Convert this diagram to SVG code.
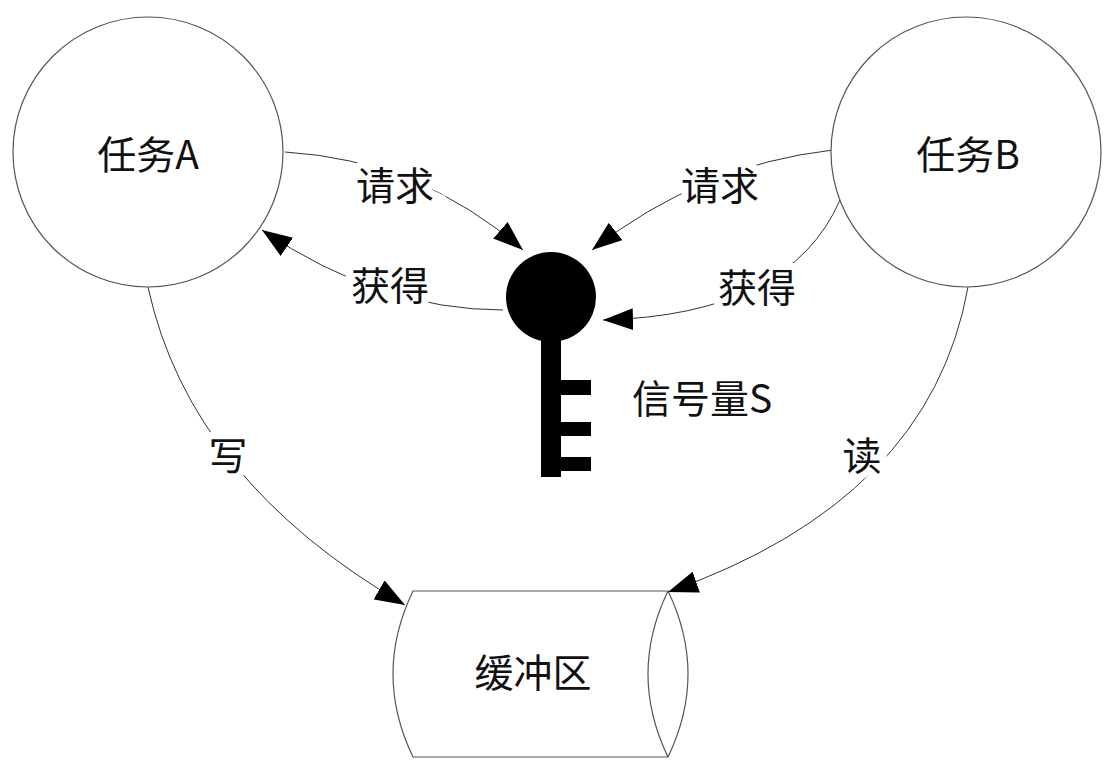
<svg xmlns="http://www.w3.org/2000/svg" width="1113" height="768" viewBox="0 0 1113 768">
<style>
.n{fill:#fff;stroke:#555;stroke-width:1.2}
.c{fill:none;stroke:#333;stroke-width:1}
text{font-family:"Noto Sans CJK SC","Liberation Sans",sans-serif;font-size:39px;fill:#111;text-anchor:middle;dominant-baseline:central}
.l{stroke:#fff;stroke-width:14;paint-order:stroke}
</style>
<defs>
<marker id="a" markerUnits="userSpaceOnUse" markerWidth="32" markerHeight="22" refX="30" refY="11" orient="auto"><path d="M0,0 L30,11 L0,22 Z" fill="#000"/></marker>
</defs>
<rect width="1113" height="768" fill="#fff"/>
<g id="connectors">
<path class="c" marker-end="url(#a)" d="M285,152 Q420,160 523,250"/>
<path class="c" marker-end="url(#a)" d="M833,150 Q700,165 592,250"/>
<path class="c" marker-end="url(#a)" d="M503,310 Q380,310 262,230"/>
<path class="c" marker-end="url(#a)" d="M840,200 Q790,315 603,320"/>
<path class="c" marker-end="url(#a)" d="M148,287 Q190,480 405,605"/>
<path class="c" marker-end="url(#a)" d="M968,287 Q930,500 668,592"/>
</g>
<g id="taskA"><circle class="n" cx="148" cy="152" r="135"/><text x="148" y="152">任务A</text></g>
<g id="taskB"><circle class="n" cx="966" cy="152" r="135"/><text x="968" y="152">任务B</text></g>
<g id="semaphore">
<circle cx="551" cy="297" r="45" fill="#000"/>
<rect x="541" y="320" width="20" height="157" fill="#000"/>
<rect x="560" y="380" width="31" height="15" fill="#000"/>
<rect x="560" y="422" width="31" height="14" fill="#000"/>
<rect x="560" y="457" width="31" height="14" fill="#000"/>
<text x="702" y="396">信号量S</text>
</g>
<g id="buffer">
<path class="n" d="M413,591 L668,591 Q708,674 668,757 L413,757 Q373,674 413,591 Z"/>
<path class="c" style="stroke:#555;stroke-width:1.2" d="M668,591 Q628,674 668,757"/>
<text x="533" y="670">缓冲区</text>
</g>
<g id="labels">
<text class="l" x="395" y="183">请求</text>
<text class="l" x="720" y="183">请求</text>
<text class="l" x="390" y="283">获得</text>
<text class="l" x="757" y="285">获得</text>
<text class="l" x="228" y="453">写</text>
<text class="l" x="862" y="453">读</text>
</g>
</svg>
